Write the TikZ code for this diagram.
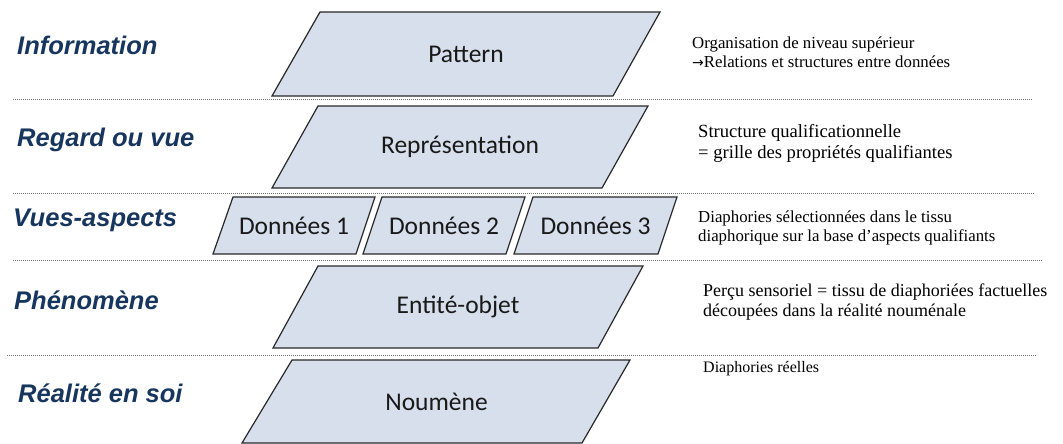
\documentclass[tikz,border=0pt]{standalone}
\usepackage{fontspec}
\setmainfont{Liberation Serif}
\newfontfamily\boxfont{Carlito}
\newfontfamily\labfont{Liberation Sans}
\newfontfamily\notefont{Liberation Serif}
\newfontfamily\arrowfont{DejaVu Sans}
\definecolor{pgfill}{RGB}{214,223,235}
\definecolor{pgline}{RGB}{40,40,40}
\definecolor{labblue}{RGB}{23,54,93}
\begin{document}
\begin{tikzpicture}[x=1pt,y=-1pt,
  pg/.style={draw=pgline, fill=pgfill, line width=1.2pt, line join=miter},
  boxtext/.style={font=\boxfont\fontsize{25.5}{30}\selectfont, text=black!90, inner sep=0pt},
  lab/.style={font=\labfont\bfseries\itshape\fontsize{25.5}{30}\selectfont, text=labblue, anchor=west, inner sep=0pt},
  note/.style={font=\notefont\fontsize{16.8}{19}\selectfont, anchor=west, inner sep=0pt, align=left},
  bignote/.style={note, font=\notefont\fontsize{18.6}{21}\selectfont},
  sep/.style={draw=black!55, line width=1pt, dash pattern=on 1pt off 1pt}]
\useasboundingbox (0,0) rectangle (1063,444);

% separators
\coordinate (s1a) at (13,99);  \coordinate (s1b) at (1033,99);
\coordinate (s2a) at (13,193); \coordinate (s2b) at (1035,193);
\coordinate (s3a) at (13,260); \coordinate (s3b) at (1042,260);
\coordinate (s4a) at (7,355);  \coordinate (s4b) at (1037,355);
\draw[sep] (s1a) -- (s1b);
\draw[sep] (s2a) -- (s2b);
\draw[sep] (s3a) -- (s3b);
\draw[sep] (s4a) -- (s4b);

% parallelograms
\path[pg] (320,12) -- (660,12) -- (613,96) -- (272,96) -- cycle;
\node[boxtext] (pattern) at (466,54) {Pattern};
\path[pg] (318,106) -- (648,106) -- (602,188) -- (272,188) -- cycle;
\node[boxtext] (repr) at (460,147) {Représentation};
\path[pg] (233,197) -- (375,197) -- (356,254) -- (213,254) -- cycle;
\node[boxtext] (d1) at (294,225.5) {Données 1};
\path[pg] (382,197) -- (525,197) -- (506,254) -- (363,254) -- cycle;
\node[boxtext] (d2) at (444,225.5) {Données 2};
\path[pg] (533,197) -- (677,197) -- (658,254) -- (514,254) -- cycle;
\node[boxtext] (d3) at (595.5,225.5) {Données 3};
\path[pg] (318,266) -- (643,266) -- (598,348) -- (273,348) -- cycle;
\node[boxtext] (entite) at (458,307) {Entité-objet};
\path[pg] (292,360) -- (630,360) -- (582,443) -- (242,443) -- cycle;
\node[boxtext] (noumene) at (436.5,401.5) {Noumène};

% left labels
\node[lab] (l1) at (17,45) {Information};
\node[lab] (l2) at (17,140) {Regard ou vue};
\node[lab] (l3) at (13,220) {Vues-aspects};
\node[lab] (l4) at (14,300) {Phénomène};
\node[lab] (l5) at (18,393) {Réalité en soi};

% right notes
\node[note] (n1) at (692,52) {Organisation de niveau supérieur\\{\arrowfont\fontsize{14}{19}\selectfont →}Relations et structures entre données};
\node[bignote] (n2) at (698,143) {Structure qualificationnelle\\= grille des propriétés qualifiantes};
\node[note] (n3) at (698,228) {Diaphories sélectionnées dans le tissu\\diaphorique sur la base d’aspects qualifiants};
\node[note, font=\notefont\fontsize{18}{20.5}\selectfont] (n4) at (703,302) {Perçu sensoriel = tissu de diaphoriées factuelles\\découpées dans la réalité nouménale};
\node[note, font=\notefont\fontsize{16}{19}\selectfont] (n5) at (703,369) {Diaphories réelles};
\end{tikzpicture}
\end{document}
